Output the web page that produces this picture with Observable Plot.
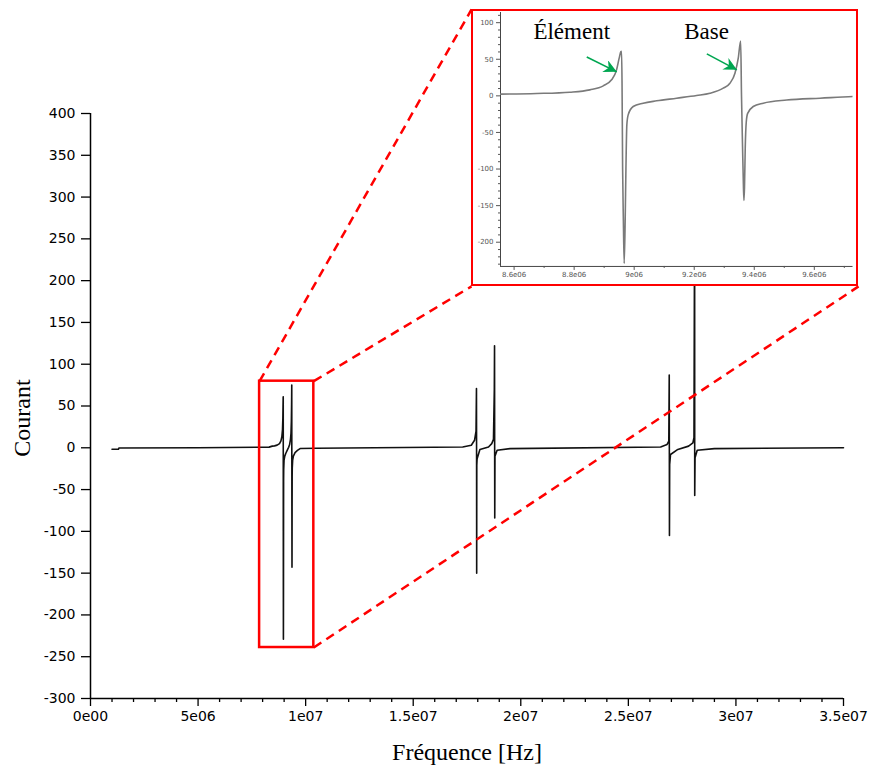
<!DOCTYPE html>
<html><head><meta charset="utf-8">
<script src="https://cdn.jsdelivr.net/npm/d3@7"></script>
<script src="https://cdn.jsdelivr.net/npm/@observablehq/plot@0.6"></script>
<style>
html,body{margin:0;padding:0;background:#fff;}
#wrap{position:relative;width:871px;height:767px;overflow:hidden;}
#inset{position:absolute;box-sizing:border-box;border:2.5px solid #ff0000;background:#fff;}
#inset svg{display:block;}
</style></head><body><div id="wrap"></div>
<script>
// ---- data (frequency in Hz, current) ----
const frequence = [
  1.0e6, 1.3e6, 1.32e6, 5e6, 8.3e6, 8.45e6,
  8.5547e6, 8.6747e6, 8.7857e6, 8.8523e6, 8.897e6, 8.9247e6, 8.9413e6, 8.95e6, 8.9557e6, 8.958e6,
  8.9595e6, 8.9615e6, 8.964e6, 8.9667e6, 8.970e6, 8.9725e6, 8.9755e6, 8.980e6, 8.9967e6, 9.03e6,
  9.0747e6, 9.1413e6, 9.208e6, 9.2523e6, 9.2967e6, 9.319e6, 9.3357e6, 9.3467e6, 9.3547e6,
  9.3575e6, 9.361e6, 9.364e6, 9.3657e6, 9.3675e6, 9.370e6, 9.3735e6, 9.378e6, 9.3967e6, 9.43e6,
  9.508e6, 9.619e6, 9.741e6, 10.5e6,
  17.3e6, 17.7e6, 17.85e6, 17.92e6, 17.94e6, 17.945e6, 17.95e6, 17.955e6, 17.97e6, 18.1e6, 18.5e6,
  18.65e6, 18.73e6, 18.77e6, 18.78e6, 18.785e6, 18.79e6, 18.8e6, 18.9e6, 19.5e6,
  26.5e6, 26.8e6, 26.88e6, 26.9e6, 26.905e6, 26.91e6, 26.92e6, 26.96e6, 27.3e6,
  27.8e6, 28.0e6, 28.05e6, 28.08e6, 28.085e6, 28.1e6, 28.2e6, 29e6, 35e6
];
const courant = [
  -1.8, -1.8, -0.3, 0, 0.8, 2.0,
  2.3, 3.2, 5, 8.2, 13.7, 21.9, 35.5, 51.5, 60.5, 61,
  20, -100, -170, -229, -170, -100, -40, -26, -14.6, -10,
  -6.8, -3.2, 0.5, 3.6, 10.5, 17.3, 31, 51.5, 75,
  0, -70, -125, -143, -125, -70, -35, -24, -14.6, -10,
  -5.7, -3.2, -0.9, -0.5,
  1, 3, 9, 20, 71, 0, -150, -21, -13, -2, 1,
  5, 10, 70, 122, 7, -84, -10, -3, -1,
  1, 4, 8, 87, 0, -105, -20, -8, -2,
  2, 6, 12, 290, -57, -12, -3, -1, 0
];
const yTicks = [-300, -250, -200, -150, -100, -50, 0, 50, 100, 150, 200, 250, 300, 350, 400];
const xTicks = [0, 5e6, 1e7, 1.5e7, 2e7, 2.5e7, 3e7, 3.5e7];
const xTickLabels = ["0e00", "5e06", "1e07", "1.5e07", "2e07", "2.5e07", "3e07", "3.5e07"];
const xMinorTicks = d3.range(0, 35).map(i => i * 1e6).filter(v => v % 5e6 !== 0);

// zoom window and inset placement (in main-chart data units)
const zoomX = [7.86e6, 10.38e6];
const zoomY = [-239, 79.7];
const insetX = [17.71e6, 35.70e6];
const insetY = [193.1, 524.5];

// inset axes
const insetDomainX = [8.5547e6, 9.729e6];
const insetDomainY = [-233.1, 113.9];
const insetYTicks = [-200, -150, -100, -50, 0, 50, 100];
const insetYMinor = d3.range(-230, 111, 10).filter(v => v % 50 !== 0);
const insetXTicks = [8.6e6, 8.8e6, 9.0e6, 9.2e6, 9.4e6, 9.6e6];
const insetXTickLabels = ["8.6e06", "8.8e06", "9e06", "9.2e06", "9.4e06", "9.6e06"];
const insetXMinor = [8.7e6, 8.9e6, 9.1e6, 9.3e6, 9.5e6, 9.7e6];
const annotations = [
  {label: "Élément", x: 8.792e6, y: 88, ax: 8.842e6, ay: 53, bx: 8.942e6, by: 32.8},
  {label: "Base", x: 9.241e6, y: 88, ax: 9.242e6, ay: 57.4, bx: 9.342e6, by: 35.5}
];

const data = frequence.map((f, i) => ({f, c: courant[i]}));
const serif = "'Liberation Serif', 'DejaVu Serif', serif";

const connectors = [
  {x1: zoomX[0], y1: zoomY[1], x2: insetX[0], y2: insetY[1]},
  {x1: zoomX[1], y1: zoomY[1], x2: insetX[0], y2: insetY[0]},
  {x1: zoomX[1], y1: zoomY[0], x2: insetX[1], y2: insetY[0]}
];

const mainChart = Plot.plot({
  width: 871, height: 767,
  marginLeft: 90, marginRight: 28, marginTop: 113, marginBottom: 69,
  x: {domain: [0, 3.5e7]},
  y: {domain: [-300, 400]},
  style: {fontFamily: "'DejaVu Sans', sans-serif", fontSize: "14px", color: "#000", background: "#fff"},
  marks: [
    Plot.line(data, {x: "f", y: "c", stroke: "#111", strokeWidth: 1.6}),
    Plot.ruleX([0], {strokeWidth: 1.5}),
    Plot.ruleY([-300], {strokeWidth: 1.5}),
    Plot.axisY({ticks: yTicks, tickSize: 9, tickPadding: 6, tickFormat: d => String(d), label: null, strokeWidth: 1.3}),
    Plot.axisX({ticks: xTicks, tickSize: 8, tickPadding: 5, tickFormat: d => xTickLabels[xTicks.indexOf(d)], label: null, strokeWidth: 1.3}),
    Plot.axisX({ticks: xMinorTicks, tickSize: 4, tickFormat: () => "", label: null, strokeWidth: 1.3}),
    Plot.rect([{x1: zoomX[0], x2: zoomX[1], y1: zoomY[0], y2: zoomY[1]}], {x1: "x1", x2: "x2", y1: "y1", y2: "y2", fill: "none", stroke: "#ff0000", strokeWidth: 2.5}),
    Plot.link(connectors, {x1: "x1", y1: "y1", x2: "x2", y2: "y2", stroke: "#ff0000", strokeWidth: 2.5, strokeDasharray: "9,6"}),
    Plot.text(["Courant"], {frameAnchor: "left", textAnchor: "middle", lineAnchor: "middle", rotate: -90, dx: -68, dy: 12, fontFamily: serif, fontSize: 24}),
    Plot.text(["Fréquence [Hz]"], {frameAnchor: "bottom", textAnchor: "middle", lineAnchor: "middle", dy: 54, fontFamily: serif, fontSize: 24})
  ]
});

const wrap = document.getElementById("wrap");
wrap.appendChild(mainChart);

const sx = mainChart.scale("x"), sy = mainChart.scale("y");
const boxLeft = sx.apply(insetX[0]), boxRight = sx.apply(insetX[1]);
const boxTop = sy.apply(insetY[1]), boxBottom = sy.apply(insetY[0]);
const border = 2.5;
const box = document.createElement("div");
box.id = "inset";
box.style.left = boxLeft + "px";
box.style.top = boxTop + "px";
box.style.width = (boxRight - boxLeft) + "px";
box.style.height = (boxBottom - boxTop) + "px";
wrap.appendChild(box);

function filledArrow(color, context) {
  const ns = "http://www.w3.org/2000/svg";
  const m = document.createElementNS(ns, "marker");
  m.setAttribute("viewBox", "-13 -6.5 13 13");
  m.setAttribute("markerWidth", 13);
  m.setAttribute("markerHeight", 13);
  m.setAttribute("markerUnits", "userSpaceOnUse");
  m.setAttribute("orient", "auto");
  m.setAttribute("refX", 0);
  m.setAttribute("refY", 0);
  const p = document.createElementNS(ns, "path");
  p.setAttribute("d", "M-13,-6.5L0,0L-13,6.5L-9,0Z");
  p.setAttribute("fill", color);
  p.setAttribute("stroke", "none");
  m.appendChild(p);
  return m;
}

const insetChart = Plot.plot({
  width: boxRight - boxLeft - 2 * border,
  height: boxBottom - boxTop - 2 * border,
  marginLeft: 27, marginRight: 2.5, marginTop: 1, marginBottom: 17,
  x: {domain: insetDomainX},
  y: {domain: insetDomainY},
  style: {fontFamily: "'DejaVu Sans', sans-serif", fontSize: "7px", color: "#555", background: "#fff"},
  marks: [
    Plot.ruleX([insetDomainX[0]], {stroke: "#444", strokeWidth: 1}),
    Plot.ruleY([insetDomainY[0]], {stroke: "#444", strokeWidth: 1}),
    Plot.axisY({ticks: insetYTicks, tickSize: 4, tickPadding: 3, tickFormat: d => String(d), label: null}),
    Plot.axisY({ticks: insetYMinor, tickSize: 2, tickFormat: () => "", label: null}),
    Plot.axisX({ticks: insetXTicks, tickSize: 4, tickPadding: 2, tickFormat: d => insetXTickLabels[insetXTicks.indexOf(d)], label: null}),
    Plot.axisX({ticks: insetXMinor, tickSize: 2, tickFormat: () => "", label: null}),
    Plot.line(data, {x: "f", y: "c", stroke: "#7a7a7a", strokeWidth: 1.6, curve: "monotone-x", clip: true}),
    Plot.link(annotations, {x1: "ax", y1: "ay", x2: "bx", y2: "by", stroke: "#00a651", strokeWidth: 1.6, markerEnd: filledArrow}),
    Plot.text(annotations, {x: "x", y: "y", text: "label", fontFamily: serif, fontSize: 23, fill: "#000", lineAnchor: "middle"})
  ]
});
box.appendChild(insetChart);
</script>
</body></html>
